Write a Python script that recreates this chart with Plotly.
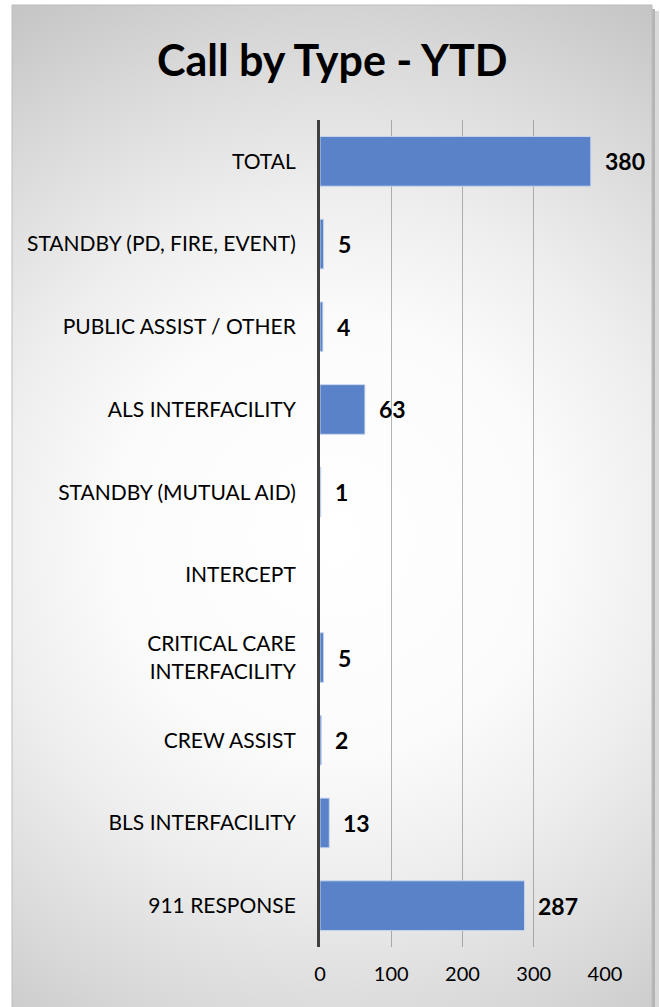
import base64
import plotly.graph_objects as go

# ---- data ----
categories = [
    "911 RESPONSE",
    "BLS INTERFACILITY",
    "CREW ASSIST",
    "CRITICAL CARE<br>INTERFACILITY",
    "INTERCEPT",
    "STANDBY (MUTUAL AID)",
    "ALS INTERFACILITY",
    "PUBLIC ASSIST / OTHER",
    "STANDBY (PD, FIRE, EVENT)",
    "TOTAL",
]
values = [287, 13, 2, 5, None, 1, 63, 4, 5, 380]
x_ticks = [0, 100, 200, 300, 400]
title_text = "Call by Type - YTD"

W, H = 660, 1007
PL, PR, PT, PB = 320, 605, 120, 947  # plot area in px


def px_x(px):
    return (px - PL) / (PR - PL)


def px_y(py):
    return (PB - py) / (PB - PT)


FONT = "Lato"

fig = go.Figure()
fig.add_trace(go.Bar(
    x=values,
    y=categories,
    orientation="h",
    marker=dict(color="#5a82c8", line=dict(color="rgba(200,215,240,0.9)", width=1)),
    hoverinfo="x+y",
))

# data labels
annotations = []
for c, v in zip(categories, values):
    if v is None:
        continue
    annotations.append(dict(
        x=v, y=c, xref="x", yref="y", text=f"<b>{v}</b>", showarrow=False,
        xanchor="left", yanchor="middle", xshift=12,
        font=dict(family=FONT, size=23, color="#000000"),
    ))

# title
annotations.append(dict(
    x=px_x(332), y=px_y(60), xref="paper", yref="paper",
    text=f"<b>{title_text}</b>", showarrow=False,
    xanchor="center", yanchor="middle",
    font=dict(family=FONT, size=43, color="#000000"),
))

# frame background (radial gradient)
FX0, FY0, FX1, FY1 = 12, 5, 652, 1010
fw, fh = FX1 - FX0, FY1 - FY0
svg = f'''<svg xmlns="http://www.w3.org/2000/svg" width="{fw}" height="{fh}" viewBox="0 0 {fw} {fh}">
<defs><radialGradient id="g" gradientUnits="userSpaceOnUse" cx="{fw*0.5}" cy="{fh*0.53}" r="{fh*0.62}">
<stop offset="0" stop-color="#ffffff"/>
<stop offset="0.35" stop-color="#fbfbfb"/>
<stop offset="0.55" stop-color="#eeeeee"/>
<stop offset="0.8" stop-color="#d8d8d8"/>
<stop offset="1" stop-color="#c4c4c4"/>
</radialGradient></defs>
<rect x="0" y="0" width="{fw}" height="{fh}" fill="url(#g)"/>
</svg>'''
src = "data:image/svg+xml;base64," + base64.b64encode(svg.encode()).decode()

images = [dict(
    source=src, xref="paper", yref="paper",
    x=px_x(FX0), y=px_y(FY0),
    sizex=px_x(FX1) - px_x(FX0), sizey=px_y(FY0) - px_y(FY1),
    xanchor="left", yanchor="top", sizing="stretch", layer="below",
)]

shapes = [
    # shadow on the right
    dict(type="rect", xref="paper", yref="paper",
         x0=px_x(FX1), x1=px_x(FX1 + 3), y0=px_y(FY1), y1=px_y(FY0 + 4),
         fillcolor="#b4b4b4", line=dict(width=0), layer="below"),
    dict(type="rect", xref="paper", yref="paper",
         x0=px_x(FX1 + 3), x1=px_x(FX1 + 7), y0=px_y(FY1), y1=px_y(FY0 + 6),
         fillcolor="#dadada", line=dict(width=0), layer="below"),
    # frame border
    dict(type="rect", xref="paper", yref="paper",
         x0=px_x(FX0), x1=px_x(FX1), y0=px_y(FY1), y1=px_y(FY0),
         fillcolor="rgba(0,0,0,0)", line=dict(color="#bdbdbd", width=1), layer="below"),
]

fig.update_layout(
    width=W, height=H,
    margin=dict(l=PL, r=W - PR, t=PT, b=H - PB, pad=0),
    paper_bgcolor="#ffffff",
    plot_bgcolor="rgba(0,0,0,0)",
    showlegend=False,
    bargap=0.4,
    annotations=annotations,
    images=images,
    shapes=shapes,
    font=dict(family=FONT, color="#000000"),
    xaxis=dict(
        range=[0, 400], tickvals=x_ticks, ticktext=[str(t) for t in x_ticks],
        showgrid=True, gridcolor="rgba(120,120,120,0.55)", gridwidth=1,
        zeroline=False, showline=False, ticks="",
        tickfont=dict(family=FONT, size=20, color="#000000"),
        ticklabelstandoff=13, fixedrange=True,
    ),
    yaxis=dict(
        showgrid=False, zeroline=False, showline=True, linecolor="#404040", linewidth=3,
        ticks="", tickfont=dict(family=FONT, size=21, color="#000000"),
        ticklabelstandoff=17, fixedrange=True,
    ),
)

fig.write_html(
    "out.html",
    config={"displayModeBar": False},
    post_script="document.body.style.margin='0';document.body.style.padding='0';",
)
